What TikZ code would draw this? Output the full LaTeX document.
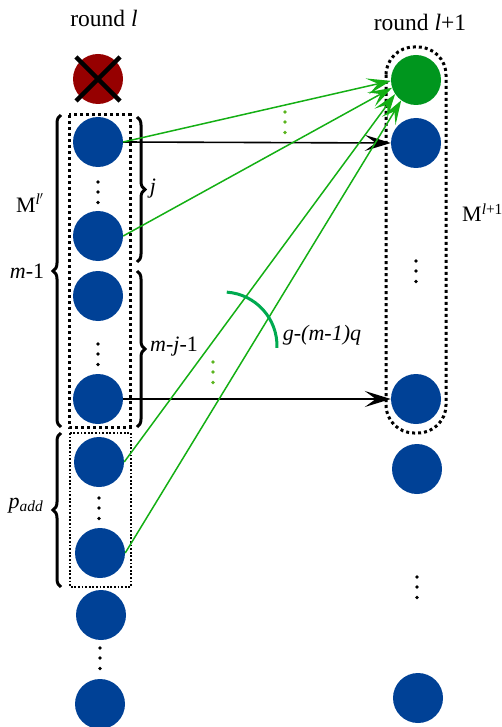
\documentclass[tikz,border=0pt]{standalone}
\usepackage{fontspec}
\setmainfont{Liberation Serif}
\usetikzlibrary{arrows.meta,decorations.pathreplacing}
\definecolor{nblue}{RGB}{0,65,150}
\definecolor{ngreen}{RGB}{0,150,30}
\definecolor{lgreen}{RGB}{20,175,20}
\definecolor{agreen}{RGB}{0,170,80}
\definecolor{dgreen}{RGB}{90,180,30}
\definecolor{nred}{RGB}{150,0,0}
\tikzset{
  dotc/.style={circle,inner sep=0pt,minimum size=50pt,draw=none},
  bluec/.style={dotc,fill=nblue},
  greenc/.style={dotc,fill=ngreen},
  redc/.style={dotc,fill=nred},
  garrow/.style={draw=lgreen,line width=1.5pt,-{Stealth[length=24pt,width=16pt,inset=11pt]}},
  barrow/.style={draw=black,line width=1.6pt,-{Stealth[length=26pt,width=16pt,inset=11pt]}},
  thickdot/.style={draw=black,line width=3pt,dash pattern=on 3pt off 3pt},
  thindot/.style={draw=black,line width=1.8pt,dash pattern=on 1.8pt off 1.8pt},
  bracel/.style={draw=black,line width=3pt,decorate,decoration={brace,amplitude=8pt}},
  lbl/.style={inner sep=0pt,anchor=base},
  title/.style={lbl,font=\fontsize{23.5}{27}\selectfont},
}
\newcommand{\vdotsat}[3]{\fill[#3] (#1,#2) circle (1.8pt) (#1,#2+10) circle (1.8pt) (#1,#2+20.5) circle (1.8pt);}
\begin{document}
\begin{tikzpicture}[x=1pt,y=-1pt,font=\fontsize{22}{25}\selectfont]
\useasboundingbox (0,0) rectangle (501,727);
% titles
\node[title] (t1) at (104,27) {round \textit{l}};
\node[title] (t2) at (420,31) {round \textit{l}+1};
% left column
\node[redc] (x) at (98,79) {};
\draw[line width=4.5pt] (x.center) ++(-22,-22) -- ++(44,44);
\draw[line width=4.5pt] (x.center) ++(22,-22) -- ++(-44,44);
\node[bluec] (b1) at (98,142) {};
\node[bluec] (b2) at (98,236) {};
\node[bluec] (b3) at (98,296) {};
\node[bluec] (b4) at (98,399) {};
\node[bluec] (b5) at (99,462) {};
\node[bluec] (b6) at (100,553) {};
\node[bluec] (b7) at (101,615) {};
\node[bluec] (b8) at (100,704) {};
\vdotsat{98}{182}{black}
\vdotsat{98}{344}{black}
\vdotsat{99}{498}{black}
\vdotsat{100}{648}{black}
% right column
\node[greenc] (g) at (416,80) {};
\node[bluec] (r1) at (416,143) {};
\node[bluec] (r2) at (416,399) {};
\node[bluec] (r3) at (417,469) {};
\node[bluec] (r4) at (418,698) {};
\vdotsat{416}{261}{black}
\vdotsat{417}{577}{black}
% boxes
\draw[thickdot] (69,115) rectangle (130,427);
\draw[thindot] (70,433) rectangle (131,587);
\draw[thickdot,rounded corners=28pt] (386,47) rectangle (446,433);
% braces
\draw[bracel] (61,427) -- (61,115);
\draw[bracel] (61,587) -- (61,433);
\draw[bracel] (137,117) -- (137,262);
\draw[bracel] (137,271) -- (137,427);
% labels
\node[lbl] (lm) at (30,212) {M\textsuperscript{\textit{l}$'$}};
\node[lbl] (lm1) at (27,278) {\textit{m}-1};
\node[lbl] (lj) at (153,194) {\textit{j}};
\node[lbl] (lmj) at (174,351) {\textit{m}-\textit{j}-1};
\node[lbl] (lp) at (26,508) {\textit{p}\textsubscript{\textit{add}}};
\node[lbl] (lg) at (322,340) {\textit{g-(m-1)q}};
\node[lbl,anchor=base west] (lM) at (462,222) {M\textsuperscript{\textit{l}+1}};
% arrows
\draw[barrow] (b1.east) -- (r1.west);
\draw[barrow] (b4.east) -- (r2.west);
\draw[garrow] (b1.east) -- (g.182);
\draw[garrow] (b2.east) -- (g.198);
\draw[garrow] (b5.east) -- (g.214);
\draw[garrow] (b6.east) -- (g.234);
% green dots
\vdotsat{285}{112}{dgreen}
\vdotsat{213}{362}{dgreen}
% arc
\draw[agreen,line width=3pt] (223,346) ++(-86:54) arc[start angle=-86,end angle=2,radius=54];
\end{tikzpicture}
\end{document}
